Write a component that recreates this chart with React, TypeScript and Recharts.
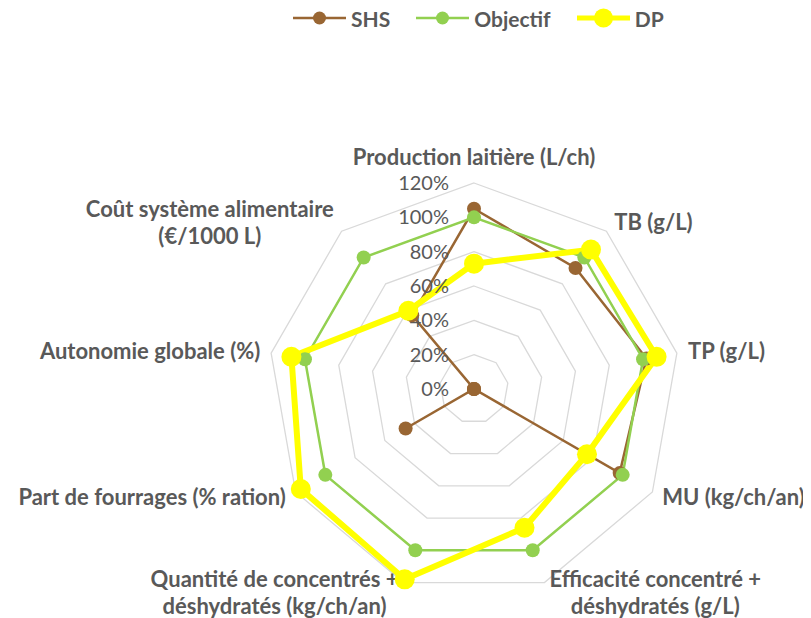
import React from 'react';
import { RadarChart, Radar, PolarGrid, PolarAngleAxis, PolarRadiusAxis, Legend } from 'recharts';

const categories = [
  'Production laitière (L/ch)',
  'TB (g/L)',
  'TP (g/L)',
  'MU (kg/ch/an)',
  'Efficacité concentré +\ndéshydratés (g/L)',
  'Quantité de concentrés +\ndéshydratés (kg/ch/an)',
  'Part de fourrages (% ration)',
  'Autonomie globale (%)',
  'Coût système alimentaire\n(€/1000 L)',
];
const shsValues = [105, 92, 102, 98, 0, 0, 46, 0, 56];
const objectifValues = [100, 100, 100, 100, 100, 100, 100, 100, 100];
const dpValues = [73, 106, 108, 76, 86, 118, 116.5, 108, 59.5];
const radiusTicks = [0, 20, 40, 60, 80, 100, 120];

const data = categories.map((c, i) => ({
  category: c,
  SHS: shsValues[i],
  Objectif: objectifValues[i],
  DP: dpValues[i],
}));

const FONT = 'Lato, "Open Sans", sans-serif';
const TEXT = '#595959';
const BROWN = '#996633';
const GREEN = '#92D050';
const YELLOW = '#FFFF00';

let ctx: CanvasRenderingContext2D | null = null;
const measure = (t: string, font: string) => {
  if (!ctx) {
    const c = document.createElement('canvas');
    ctx = c.getContext('2d');
  }
  if (!ctx) return t.length * 11;
  ctx.font = font;
  return ctx.measureText(t).width;
};

const LABEL_SIZE = 22;
const LINE_H = 27;

const AngleTick = (props: any) => {
  const { x, y, payload } = props;
  const ang = (payload.coordinate * Math.PI) / 180;
  const cos = Math.cos(ang);
  const sin = Math.sin(ang);
  const vx = x - 8 * cos;
  const vy = y + 8 * sin;
  const lines = String(payload.value).split('\n');
  const font = `bold ${LABEL_SIZE}px Lato`;
  const w = Math.max(...lines.map((l) => measure(l, font)));
  let centerX: number;
  let centerY: number;
  if (Math.abs(cos) < 0.01) {
    centerX = vx;
    centerY = vy - (sin > 0 ? 26 : -26);
  } else {
    const off = 2 + 9 * Math.abs(cos);
    centerX = cos > 0 ? vx + off + w / 2 : vx - off - w / 2;
    centerY = vy - 11 * sin;
  }
  const top = centerY - ((lines.length - 1) * LINE_H) / 2;
  return (
    <text
      textAnchor="middle"
      fill={TEXT}
      fontFamily={FONT}
      fontWeight={700}
      fontSize={LABEL_SIZE}
    >
      {lines.map((l, i) => (
        <tspan key={i} x={centerX} y={top + i * LINE_H} dy="0.35em">
          {l}
        </tspan>
      ))}
    </text>
  );
};

const RadiusTick = (props: any) => {
  const { x, y, payload } = props;
  return (
    <text
      x={x - 25}
      y={y}
      dy="0.35em"
      textAnchor="end"
      fill={TEXT}
      fontFamily={FONT}
      fontSize={20}
    >
      {`${payload.value}%`}
    </text>
  );
};

const legendItems = [
  { name: 'SHS', color: BROWN, width: 2.5, r: 6.5 },
  { name: 'Objectif', color: GREEN, width: 2.5, r: 6.5 },
  { name: 'DP', color: YELLOW, width: 5, r: 9.5 },
];

const renderLegend = () => (
  <div
    style={{
      display: 'flex',
      justifyContent: 'flex-start',
      alignItems: 'center',
      fontFamily: FONT,
      fontWeight: 700,
      fontSize: 21,
      color: TEXT,
      height: 24,
      paddingLeft: 285,
    }}
  >
    {legendItems.map((it, i) => (
      <div
        key={it.name}
        style={{ display: 'flex', alignItems: 'center', marginLeft: i === 0 ? 0 : 26 }}
      >
        <svg width={53} height={22} style={{ marginRight: 5 }}>
          <line x1={0} y1={11} x2={53} y2={11} stroke={it.color} strokeWidth={it.width} />
          <circle cx={26.5} cy={11} r={it.r} fill={it.color} />
        </svg>
        <span>{it.name}</span>
      </div>
    ))}
  </div>
);

export default function App() {
  return (
    <div style={{ position: 'relative', width: 803, height: 610 }}>
      <RadarChart
        width={803}
        height={610}
        data={data}
        cx={466}
        cy={381}
        outerRadius={206}
        margin={{ top: 0, right: 0, bottom: 0, left: 0 }}
        style={{ overflow: 'visible' }}
      >
        <PolarGrid gridType="polygon" radialLines={false} stroke="#D9D9D9" strokeWidth={1.3} />
        <PolarAngleAxis dataKey="category" tick={<AngleTick />} tickLine={false} axisLine={false} />
        <PolarRadiusAxis
          angle={90}
          domain={[0, 120]}
          ticks={radiusTicks}
          tick={<RadiusTick />}
          axisLine={false}
          tickLine={false}
          tickCount={7}
        />
        <Radar
          name="SHS"
          dataKey="SHS"
          stroke={BROWN}
          strokeWidth={2.5}
          fill="none"
          fillOpacity={0}
          dot={{ r: 7, fill: BROWN, stroke: BROWN, strokeWidth: 0, fillOpacity: 1 }}
          isAnimationActive={false}
        />
        <Radar
          name="Objectif"
          dataKey="Objectif"
          stroke={GREEN}
          strokeWidth={2.5}
          fill="none"
          fillOpacity={0}
          dot={{ r: 7, fill: GREEN, stroke: GREEN, strokeWidth: 0, fillOpacity: 1 }}
          isAnimationActive={false}
        />
        <Radar
          name="DP"
          dataKey="DP"
          stroke={YELLOW}
          strokeWidth={6}
          fill="none"
          fillOpacity={0}
          dot={{ r: 10, fill: YELLOW, stroke: YELLOW, strokeWidth: 0, fillOpacity: 1 }}
          isAnimationActive={false}
        />
        <Legend
          verticalAlign="top"
          align="center"
          content={renderLegend}
          wrapperStyle={{ top: -2, left: 0, width: 803 }}
        />
      </RadarChart>
    </div>
  );
}
